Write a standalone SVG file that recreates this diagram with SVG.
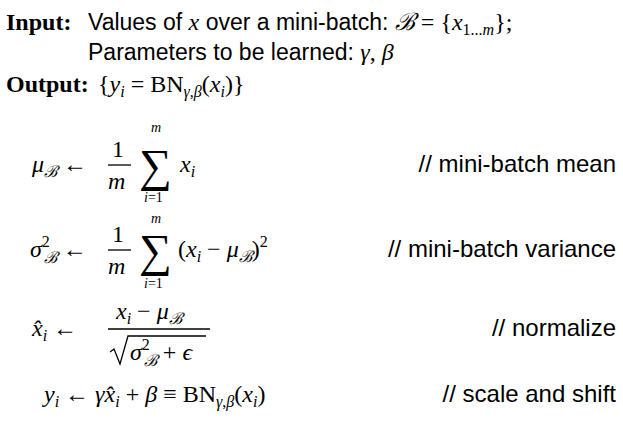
<svg xmlns="http://www.w3.org/2000/svg" width="623" height="431" viewBox="0 0 623 431">
<style>
text{font-family:"Liberation Serif","DejaVu Serif",serif;font-size:24px;fill:#000}
.b{font-weight:bold}
.s{font-family:"Liberation Sans","DejaVu Sans",sans-serif;font-size:23px}
.i{font-style:italic}
.sm{font-size:16px}
.lim{font-size:14px}
.sum{font-size:46px}
.c{font-family:"Liberation Sans","DejaVu Sans",sans-serif;font-size:24px;text-anchor:end}
line{stroke:#000;stroke-width:1.3}
</style>
<rect width="623" height="431" fill="#fff"/>
<g id="header">
<text x="6" y="30" class="b">Input:</text>
<text x="88" y="30"><tspan class="s">Values of </tspan><tspan class="i">x</tspan><tspan class="s"> over a mini-batch: </tspan><tspan class="i">ℬ</tspan> = {<tspan class="i">x</tspan><tspan class="sm" dy="5">1...<tspan class="i">m</tspan></tspan><tspan dy="-5">};</tspan></text>
<text x="88" y="60"><tspan class="s">Parameters to be learned: </tspan><tspan class="i">γ</tspan>, <tspan class="i">β</tspan></text>
<text x="6" y="92" class="b">Output:</text>
<text x="98" y="92">{<tspan class="i">y</tspan><tspan class="sm i" dy="5">i</tspan><tspan dy="-5"> = BN</tspan><tspan class="sm" dy="5"><tspan class="i">γ</tspan>,<tspan class="i">β</tspan></tspan><tspan dy="-5">(</tspan><tspan class="i">x</tspan><tspan class="sm i" dy="5">i</tspan><tspan dy="-5">)}</tspan></text>
</g>
<g id="eq1">
<text x="32" y="172"><tspan class="i">μ</tspan><tspan class="sm i" dy="5">ℬ</tspan><tspan dy="-5"> ←</tspan></text>
<text x="112" y="157">1</text><line x1="108" y1="165" x2="131" y2="165"/><text x="108" y="189" class="i">m</text>
<text x="151" y="132" class="lim i">m</text>
<text x="139" y="181" class="sum">∑</text>
<text x="144" y="202" class="lim"><tspan class="i">i</tspan>=1</text>
<text x="180" y="172"><tspan class="i">x</tspan><tspan class="sm i" dy="5">i</tspan></text>
<text x="616" y="172" class="c">// mini-batch mean</text>
</g>
<g id="eq2">
<text x="30" y="257"><tspan class="i">σ</tspan><tspan class="sm" dy="-10">2</tspan><tspan class="sm i" dx="-6" dy="16">ℬ</tspan><tspan dy="-6"> ←</tspan></text>
<text x="112" y="242">1</text><line x1="108" y1="250" x2="131" y2="250"/><text x="108" y="274" class="i">m</text>
<text x="151" y="223" class="lim i">m</text>
<text x="139" y="266" class="sum">∑</text>
<text x="144" y="288" class="lim"><tspan class="i">i</tspan>=1</text>
<text x="178" y="257">(<tspan class="i">x</tspan><tspan class="sm i" dy="5">i</tspan><tspan dy="-5"> − </tspan><tspan class="i">μ</tspan><tspan class="sm i" dy="5">ℬ</tspan><tspan dy="-5">)</tspan><tspan class="sm" dy="-10">2</tspan></text>
<text x="616" y="257" class="c">// mini-batch variance</text>
</g>
<g id="eq3">
<text x="32" y="336"><tspan class="i">x̂</tspan><tspan class="sm i" dy="5">i</tspan><tspan dy="-5"> ←</tspan></text>
<text x="116" y="319"><tspan class="i">x</tspan><tspan class="sm i" dy="5">i</tspan><tspan dy="-5"> − </tspan><tspan class="i">μ</tspan><tspan class="sm i" dy="5">ℬ</tspan></text>
<line x1="108" y1="329" x2="210" y2="329"/>
<path d="M110,352 L114,349 L120,364 L128,336 L206,336" fill="none" stroke="#000" stroke-width="1.3"/>
<text x="130" y="360"><tspan class="i">σ</tspan><tspan class="sm" dy="-10">2</tspan><tspan class="sm i" dx="-6" dy="16">ℬ</tspan><tspan dy="-6"> + </tspan><tspan class="i">ϵ</tspan></text>
<text x="616" y="336" class="c">// normalize</text>
</g>
<g id="eq4">
<text x="44" y="402"><tspan class="i">y</tspan><tspan class="sm i" dy="5">i</tspan><tspan dy="-5"> ← </tspan><tspan class="i">γx̂</tspan><tspan class="sm i" dy="5">i</tspan><tspan dy="-5"> + </tspan><tspan class="i">β</tspan> ≡ BN<tspan class="sm" dy="5"><tspan class="i">γ</tspan>,<tspan class="i">β</tspan></tspan><tspan dy="-5">(</tspan><tspan class="i">x</tspan><tspan class="sm i" dy="5">i</tspan><tspan dy="-5">)</tspan></text>
<text x="616" y="402" class="c">// scale and shift</text>
</g>
</svg>
